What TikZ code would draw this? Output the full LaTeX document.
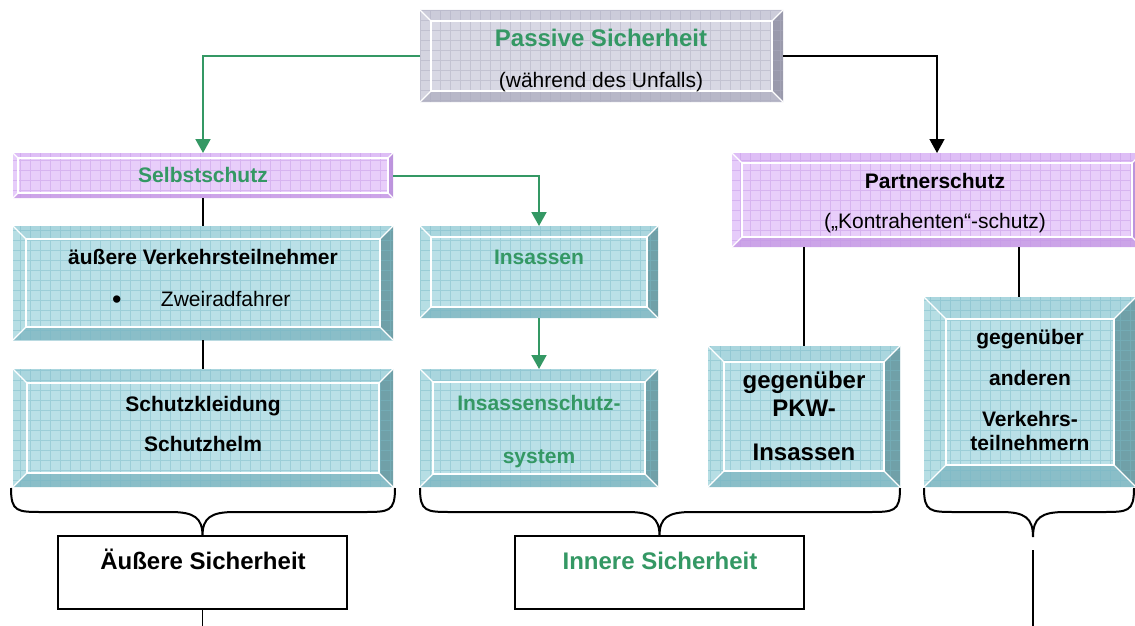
\documentclass[tikz,border=0pt]{standalone}
\usepackage{fontspec}
\setmainfont{Liberation Sans}
\usetikzlibrary{arrows.meta,calc}
\definecolor{grn}{RGB}{52,152,100}
% teal scheme
\definecolor{tealface}{RGB}{186,224,231}
\definecolor{tealtop}{RGB}{170,214,222}
\definecolor{tealleft}{RGB}{182,222,228}
\definecolor{tealbot}{RGB}{138,190,200}
\definecolor{tealright}{RGB}{112,160,168}
\definecolor{tealgrid}{RGB}{120,185,198}
% purple scheme
\definecolor{purpface}{RGB}{232,206,250}
\definecolor{purptop}{RGB}{222,190,246}
\definecolor{purpleft}{RGB}{230,204,250}
\definecolor{purpbot}{RGB}{204,164,232}
\definecolor{purpright}{RGB}{188,148,220}
\definecolor{purpgrid}{RGB}{196,150,230}
% gray scheme
\definecolor{grayface}{RGB}{216,216,228}
\definecolor{graytop}{RGB}{204,204,218}
\definecolor{grayleft}{RGB}{212,212,224}
\definecolor{graybot}{RGB}{184,184,200}
\definecolor{grayright}{RGB}{154,154,172}
\definecolor{graygrid}{RGB}{170,170,190}
\newcommand\bevelbox[7]{%
  \fill[#6face] (#1,#2) rectangle (#3,#4);
  \fill[#6top] (#1,#2) -- (#3,#2) -- (#3-#5,#2+#5) -- (#1+#5,#2+#5) -- cycle;
  \fill[#6bot] (#1,#4) -- (#3,#4) -- (#3-#5,#4-#5) -- (#1+#5,#4-#5) -- cycle;
  \fill[#6left] (#1,#2) -- (#1+#5,#2+#5) -- (#1+#5,#4-#5) -- (#1,#4) -- cycle;
  \fill[#6right] (#3,#2) -- (#3-#5,#2+#5) -- (#3-#5,#4-#5) -- (#3,#4) -- cycle;
  \begin{scope}
    \clip (#1,#2) rectangle (#3,#4);
    \draw[#6grid, line width=0.5pt, opacity=0.45] (#1,#2) grid[step=10pt] (#3,#4);
  \end{scope}
  \draw[white, line width=1.3pt] (#1+#5,#2+#5) rectangle (#3-#5,#4-#5);
  \draw[white, line width=1.3pt] (#1,#2) -- (#1+#5,#2+#5) (#3,#2) -- (#3-#5,#2+#5)
     (#1,#4) -- (#1+#5,#4-#5) (#3,#4) -- (#3-#5,#4-#5);
  \pgfmathsetmacro\bw{#3-#1}\pgfmathsetmacro\bh{#4-#2}
  \node[inner sep=0, outer sep=0, minimum width=\bw pt, minimum height=\bh pt] (#7) at ({(#1+#3)/2},{(#2+#4)/2}) {};
}
\newcommand\drawbrace[6]{% x1 x2 xm ytop ymid ytip
  \draw[bracestyle] (#1,#4) .. controls (#1,#5) and (#1+6,#5) .. (#1+32,#5) -- (#3-32,#5)
    .. controls (#3-8,#5) and (#3,#5+6) .. (#3,#6)
    .. controls (#3,#5+6) and (#3+8,#5) .. (#3+32,#5) -- (#2-32,#5)
    .. controls (#2-6,#5) and (#2,#5) .. (#2,#4);
}
\begin{document}
\begin{tikzpicture}[x=1pt,y=-1pt,
  txt/.style={inner sep=0, outer sep=0, anchor=base, font=\fontsize{21}{25}\selectfont},
  bigtxt/.style={txt, font=\fontsize{24}{28}\selectfont},
  garrow/.style={grn, line width=2pt, -{Triangle[width=15pt,length=14pt]}},
  barrow/.style={black, line width=1.5pt, -{Triangle[width=15pt,length=14pt]}},
  bline/.style={black, line width=1.5pt},
  bracestyle/.style={black, line width=2pt},
  plainbox/.style={draw=black, line width=1.5pt, fill=white, inner sep=0, minimum width=289pt, minimum height=73pt}]
\useasboundingbox (0,0) rectangle (1135,626);
\clip (0,0) rectangle (1135,626);

% boxes
\bevelbox{420}{10}{783}{102}{11}{gray}{top}
\bevelbox{13}{153}{393}{198}{5}{purp}{self}
\bevelbox{13}{226}{393}{340}{13}{teal}{aeu}
\bevelbox{13}{369}{393}{487}{14}{teal}{schutz}
\bevelbox{420}{226}{658}{318}{11}{teal}{ins}
\bevelbox{420}{369}{658}{487}{13}{teal}{inss}
\bevelbox{732}{153}{1142}{247}{10}{purp}{partner}
\bevelbox{708}{346}{900}{487}{16}{teal}{pkw}
\bevelbox{924}{297}{1136}{487}{22}{teal}{andere}

\node[plainbox] (aeus) at (202.5,572.5) {};
\node[plainbox] (inn) at (659.5,572.5) {};

% texts
\node[bigtxt, text=grn] (tps) at (601,47) {\bfseries Passive Sicherheit};
\node[txt] (tpu) at (601,87) {(während des Unfalls)};
\node[txt, text=grn] (tself) at (203,182) {\bfseries Selbstschutz};
\node[txt] (taeu) at (203,264) {\bfseries äußere Verkehrsteilnehmer};
\node[txt, anchor=base west] (tzw) at (112,306) {\raisebox{-2pt}{\fontsize{27}{27}\selectfont\textbullet}\hspace{39.5pt}Zweiradfahrer};
\node[txt] (tsk) at (203,411) {\bfseries Schutzkleidung};
\node[txt] (tsh) at (203,451) {\bfseries Schutzhelm};
\node[txt, text=grn] (tins) at (539,264) {\bfseries Insassen};
\node[txt, text=grn] (tiss1) at (539,410) {\bfseries Insassenschutz-};
\node[txt, text=grn] (tiss2) at (539,463) {\bfseries system};
\node[txt] (tpa1) at (935,188) {\bfseries Partnerschutz};
\node[txt] (tpa2) at (935,228) {(„Kontrahenten“-schutz)};
\node[bigtxt] (tpk1) at (804,388) {\bfseries gegenüber};
\node[bigtxt] (tpk2) at (804,416) {\bfseries PKW-};
\node[bigtxt] (tpk3) at (804,460) {\bfseries Insassen};
\node[txt] (tan1) at (1030,344) {\bfseries gegenüber};
\node[txt] (tan2) at (1030,385) {\bfseries anderen};
\node[txt] (tan3) at (1030,426) {\bfseries Verkehrs-};
\node[txt] (tan4) at (1030,450) {\bfseries teilnehmern};
\node[bigtxt] (tas) at (203,569) {\bfseries Äußere Sicherheit};
\node[bigtxt, text=grn] (tis) at (660,569) {\bfseries Innere Sicherheit};

% connectors
\draw[garrow] (top.west) -| (self.north);
\draw[barrow] (top.east) -| (partner.north);
\draw[garrow] (self.east) -| (ins.north);
\draw[garrow] (ins.south) -- (inss.north);
\draw[bline] (self.south) -- (aeu.north);
\draw[bline] (aeu.south) -- (schutz.north);
\draw[bline] (partner.south -| pkw.north) -- (pkw.north);
\coordinate (pa) at (1019,247);
\draw[bline] (pa) -- (pa |- andere.north);

% braces
\drawbrace{11}{395}{202.5}{488}{512}{536}
\drawbrace{420}{900}{659.5}{488}{512}{536}
\drawbrace{924}{1134}{1033}{488}{512}{537}
\coordinate (c3a) at (1033,550);
\coordinate (c3b) at (1033,626);
\draw[bline] (c3a) -- (c3b);
\coordinate (aeb) at (202.5,626);
\draw[bline] (aeus.south) -- (aeb);
\end{tikzpicture}
\end{document}
